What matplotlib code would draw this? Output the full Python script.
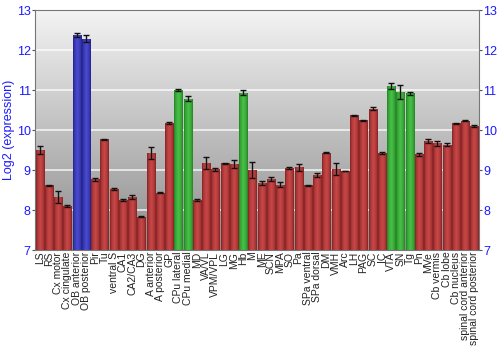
#!/usr/bin/env python3
import numpy as np
import matplotlib
matplotlib.use("Agg")
import matplotlib.pyplot as plt
from matplotlib.colors import LinearSegmentedColormap


REGIONS = ["LS", "RS", "Cx motor", "Cx cingulate", "OB anterior", "OB posterior",
           "Pir", "Tu", "ventral S", "CA1", "CA2/CA3", "DG", "A anterior",
           "A posterior", "GP", "CPu lateral", "CPu medial", "MD", "VA/VL",
           "VPM/VPL", "LG", "MG", "Hb", "M", "ME", "SCN", "MPA", "SO", "Pa",
           "SPa ventral", "SPa dorsal", "DM", "VMH", "Arc", "LH", "PAG", "SC",
           "IC", "VTA", "SN", "Tg", "Pn", "MVe", "Cb vermis", "Cb lobe",
           "Cb nucleus", "spinal cord anterior", "spinal cord posterior"]
VALUES = [9.50, 8.62, 8.32, 8.10, 12.37, 12.29, 8.77, 9.77, 8.53, 8.25, 8.34,
          7.84, 9.43, 8.44, 10.18, 11.01, 10.79, 8.25, 9.19, 9.02, 9.17, 9.15,
          10.94, 9.00, 8.69, 8.77, 8.64, 9.06, 9.07, 8.62, 8.87, 9.44, 9.04,
          8.98, 10.37, 10.25, 10.54, 9.43, 11.10, 10.96, 10.92, 9.40, 9.72,
          9.67, 9.64, 10.17, 10.24, 10.11]
ERRORS = [0.10, 0.01, 0.15, 0.03, 0.05, 0.08, 0.03, 0.01, 0.02, 0.03, 0.05,
          0.02, 0.15, 0.02, 0.03, 0.02, 0.06, 0.03, 0.15, 0.03, 0.01, 0.10,
          0.06, 0.20, 0.05, 0.05, 0.07, 0.03, 0.08, 0.02, 0.05, 0.02, 0.15,
          0.01, 0.01, 0.01, 0.03, 0.02, 0.07, 0.17, 0.03, 0.04, 0.05, 0.06,
          0.04, 0.01, 0.02, 0.03]
# r = red, b = blue, g = green
GROUPS = "rrrrbbrrrrrrrrrggrrrrrgrrrrrrrrrrrrrrrgggrrrrrrr"

COLORS = {
    "r": ("#7a1c1c", "#c94848"),
    "b": ("#1c1c80", "#4a4ad0"),
    "g": ("#1c7a1c", "#48c048"),
}
YMIN, YMAX = 7, 13
BLUE = "#1a1aff"

plt.rcParams["font.family"] = ["Liberation Sans", "DejaVu Sans"]


def main():
    fig = plt.figure(figsize=(5, 3.5), dpi=100)
    ax = fig.add_axes([0.07, 0.285, 0.888, 0.686])

    x = np.arange(len(REGIONS))
    ax.set_xlim(-0.5, len(REGIONS) - 0.5)
    ax.set_ylim(YMIN, YMAX)

    # background gradient
    bg = LinearSegmentedColormap.from_list("bg", ["#8c8c8c", "#f4f4f4"])
    grad = np.linspace(0, 1, 256).reshape(-1, 1)
    ax.imshow(grad, cmap=bg, aspect="auto", origin="lower",
              extent=[-0.5, len(REGIONS) - 0.5, YMIN, YMAX], zorder=0)

    for yy in range(8, 13):
        ax.axhline(yy, color="white", lw=1.2, alpha=0.8, zorder=1)

    width = 0.88
    bars = ax.bar(x, [v - YMIN for v in VALUES], bottom=YMIN, width=width,
                  color="none", edgecolor="none", zorder=2)
    hprof = np.concatenate([np.linspace(0, 1, 20), np.linspace(1, 0, 20)[1:]])
    hprof = np.sqrt(hprof).reshape(1, -1)
    for b, g in zip(bars, GROUPS):
        cmap = LinearSegmentedColormap.from_list("c" + g, list(COLORS[g]))
        x0, y0 = b.get_x(), b.get_y()
        im = ax.imshow(hprof, cmap=cmap, aspect="auto",
                       extent=[x0, x0 + b.get_width(), y0, y0 + b.get_height()],
                       zorder=2, vmin=0, vmax=1)
        im.set_clip_path(b)

    ax.errorbar(x, VALUES, yerr=ERRORS, fmt="none", ecolor="#111111",
                elinewidth=1, capsize=2, capthick=1, zorder=3)

    ax.set_xticks(x)
    ax.set_xticklabels(REGIONS, rotation=90, fontsize=7.5, color="#222222")
    ax.tick_params(axis="x", length=0, pad=1)
    ax.set_yticks(range(YMIN, YMAX + 1))
    ax.tick_params(axis="y", colors="#555555", labelcolor=BLUE, labelsize=9,
                   length=2.5, left=True, right=True, labelleft=True,
                   labelright=True, pad=0.5)
    ax.set_ylabel("Log2 (expression)", color=BLUE, fontsize=9)
    ax.yaxis.set_label_coords(-0.045, 0.5)

    for s in ax.spines.values():
        s.set_color("#777777")

    fig.savefig("out.png", dpi=100)


if __name__ == '__main__':
    main()
